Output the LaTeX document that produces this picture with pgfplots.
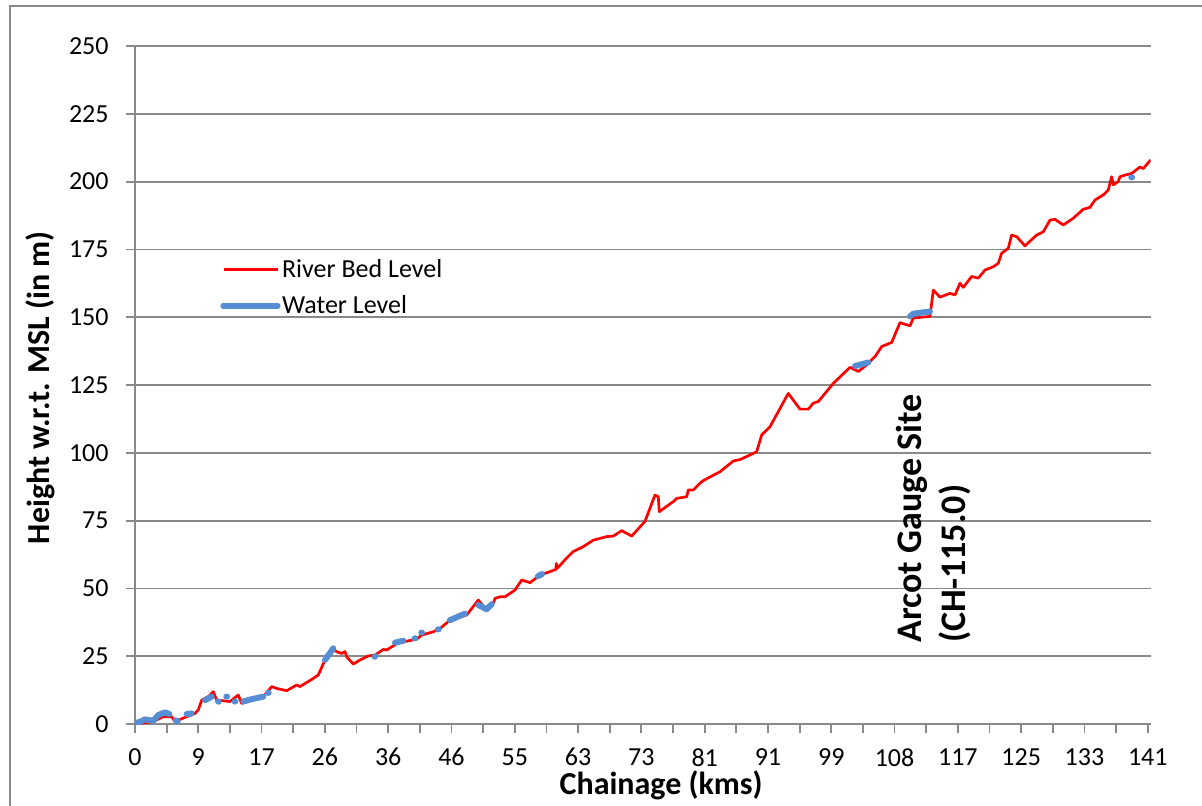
\documentclass[border=0pt]{standalone}
\usepackage{fontspec}
\setmainfont{Carlito}
\usepackage{pgfplots}
\usepackage{pgfplotstable}
\pgfplotsset{compat=1.18}
\definecolor{gridgray}{RGB}{137,137,137}
\definecolor{wblue}{RGB}{85,142,213}
\definecolor{rred}{RGB}{255,0,0}

\pgfplotstableread{
x y
0 0
1.5 0.5
2.55 0.9
3.94 2.7
5.11 2.7
5.57 0.9
7.20 2.7
8.35 3.9
8.81 5.2
9.29 8.8
10.20 10.1
10.90 11.9
11.37 8.8
13.23 8.3
14.38 10.7
14.85 7.6
16.25 8.8
17.86 10.1
19.03 13.8
19.73 13.1
21.12 12.3
22.51 14.4
22.97 13.8
24.82 16.8
25.52 18.1
26.45 23.6
27.38 27.9
28.08 26.7
28.78 26.0
29.24 26.7
29.47 24.8
30.39 22.1
31.32 23.6
32.48 25.1
33.41 25.4
34.57 27.5
35.04 27.3
36.43 29.6
37.35 30.3
39.22 31.3
39.91 32.8
41.53 34.0
42.46 35.2
43.85 38.3
46.18 40.2
47.79 45.7
48.96 42.0
49.88 44.5
50.12 46.3
50.82 46.9
51.51 46.9
52.90 49.4
53.84 53.1
54.99 52.1
56.38 54.9
57.78 56.2
58.60 57.0
58.65 59.2
58.75 57.3
60.10 61.2
61.02 63.6
62.41 65.4
63.81 67.8
65.67 69.1
66.59 69.3
67.76 71.3
69.15 69.3
71.00 74.7
72.39 84.4
72.85 83.8
72.99 78.3
74.94 82.0
75.42 83.2
76.81 83.8
77.03 86.3
77.73 86.3
78.90 89.4
80.05 91.1
81.44 93.0
83.30 97.0
84.23 97.5
85.62 99.2
86.55 100.4
87.25 106.6
88.40 109.6
90.95 121.9
92.58 116.1
93.74 116.1
94.43 118.3
95.13 118.9
97.22 125.6
99.54 131.5
100.70 130.0
101.86 132.4
103.03 135.5
103.96 139.2
105.35 140.7
106.50 148.0
107.90 146.8
108.36 149.7
110.68 150.3
111.14 160.0
112.07 157.4
113.46 158.8
114.16 158.2
114.86 162.5
115.31 161.0
116.48 165.0
117.40 164.4
118.34 167.4
119.49 168.6
120.19 169.9
120.66 173.6
121.58 175.4
122.05 180.3
122.75 179.7
123.90 176.3
125.53 180.3
126.45 181.5
127.39 185.8
128.08 186.1
129.24 184.0
130.63 186.5
132.02 189.8
132.95 190.5
133.65 193.2
134.80 195.1
135.50 196.9
135.97 201.8
136.20 198.8
136.89 200.0
137.13 201.8
137.83 202.4
138.76 203.0
139.91 205.4
140.37 204.8
141.40 208.0
}\bedtable

\pgfplotstableread{
x y
0 0.3
0.70 0.8
1.39 1.7
2.55 1.2
3.24 3.3
4.18 4.3
4.78 3.7
nan nan
5.65 1.4
5.95 1.0
nan nan
7.20 3.7
7.89 3.9
nan nan
9.75 8.8
10.68 10.1
nan nan
11.55 8.4
11.65 8.2
nan nan
12.72 10.1
12.82 10.1
nan nan
13.87 8.3
13.97 8.3
nan nan
15.08 8.3
16.00 9.0
17.86 10.1
nan nan
18.50 11.5
18.62 11.5
nan nan
26.45 23.6
27.61 27.9
nan nan
33.36 24.8
33.46 25.0
nan nan
36.20 30.0
37.35 30.7
nan nan
38.93 31.6
39.03 31.6
nan nan
39.86 33.7
39.96 33.7
nan nan
42.18 34.9
42.28 34.9
nan nan
43.85 38.3
45.94 40.7
nan nan
47.79 43.9
48.96 42.3
49.66 44.2
nan nan
56.10 54.5
56.66 55.3
nan nan
100.24 132.0
102.09 133.3
nan nan
107.90 150.3
108.36 151.3
110.68 152.1
nan nan
138.70 201.6
138.82 201.6
}\watertable

\begin{document}
\begin{tikzpicture}
\useasboundingbox (-67.5pt,-40.5pt) rectangle (533.5pt,362pt);
\draw[gridgray, line width=1pt] (-62.5pt,-60pt) -- (-62.5pt,359pt) -- (560pt,359pt);
\begin{axis}[
  scale only axis, width=507.85pt, height=339pt,
  at={(0,0)}, anchor=south west,
  xmin=0, xmax=141.41, ymin=0, ymax=250,
  axis x line=bottom, axis y line=left,
  axis line style={-, gridgray, line width=0.9pt},
  tick align=outside, major tick length=4.5pt, minor tick length=4.5pt,
  tick style={gridgray, line width=0.9pt},
  ytick={0,25,...,250},
  xtick={0,8.8125,17.625,26.4375,35.25,44.0625,52.875,61.6875,70.5,79.3125,88.125,96.9375,105.75,114.5625,123.375,132.1875,141},
  xticklabels={0,9,17,26,36,46,55,63,73,81,91,99,108,117,125,133,141},
  minor xtick={4.40625,13.21875,22.03125,30.84375,39.65625,48.46875,57.28125,66.09375,74.90625,83.71875,92.53125,101.34375,110.15625,118.96875,127.78125,136.59375},
  ymajorgrids, major grid style={gridgray, line width=0.9pt},
  /pgf/number format/assume math mode=true,
  ticklabel style={font=\fontsize{13}{15}\selectfont},
  yticklabel style={anchor=east, inner sep=0pt, xshift=-8.5pt},
  xticklabel style={anchor=north, inner sep=0pt, yshift=-7.5pt},
  xlabel={Chainage (kms)}, ylabel={Height w.r.t. MSL (in m)},
  label style={font=\bfseries\fontsize{16}{19}\selectfont},
  xlabel style={at={([yshift=-35pt]axis description cs:0.518,0)}, anchor=base},
  ylabel style={at={([xshift=-42.5pt]axis description cs:0,0.496)}, anchor=base},
  unbounded coords=jump,
  legend style={at={(axis description cs:0.0838,0.692)}, anchor=north west, draw=none, fill=none,
    font=\fontsize{13}{15}\selectfont, row sep=3.5pt, inner sep=0pt},
  legend cell align=left,
  legend image code/.code={\path (0pt,0pt) -- (25.8pt,0pt); \draw[#1,overlay] (0pt,0pt) -- (27pt,0pt);},
]
\addplot[rred, line width=1.35pt, line join=round] table[x=x,y=y] {\bedtable};
\addlegendentry{River Bed Level}
\addplot[wblue, line width=3pt, line cap=round, line join=round] table[x=x,y=y] {\watertable};
\addlegendentry{Water Level}
\node[rotate=90, anchor=north west, align=left, inner sep=0pt,
  font=\bfseries\fontsize{18}{22}\selectfont] at (axis cs:105.9,29.9) {Arcot Gauge Site\\(CH-115.0)};
\end{axis}
\end{tikzpicture}
\end{document}
